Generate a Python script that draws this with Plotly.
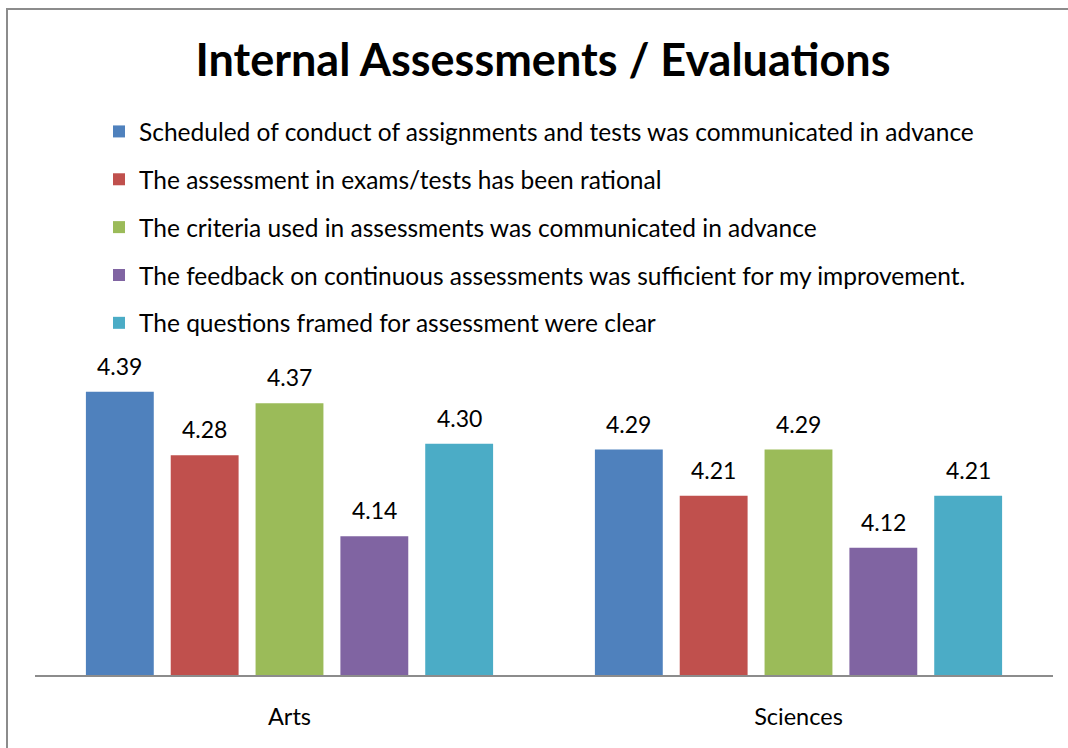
import plotly.graph_objects as go

categories = ["Arts", "Sciences"]
series_names = [
    "Scheduled of conduct of assignments and tests was communicated in advance",
    "The assessment in exams/tests has been rational",
    "The criteria used in assessments was communicated in advance",
    "The feedback on continuous assessments was sufficient for my improvement.",
    "The questions framed for assessment were clear",
]
series_values = [
    [4.39, 4.29],
    [4.28, 4.21],
    [4.37, 4.29],
    [4.14, 4.12],
    [4.30, 4.21],
]
colors = ["#4F81BD", "#C0504D", "#9BBB59", "#8064A2", "#4BACC6"]

W, H = 1068, 748
L, R, T, B = 35, 15, 386, 73
pw, ph = W - L - R, H - T - B
BARGAP = 1 / 6
n = len(series_names)
slot = (1 - BARGAP) / n

fig = go.Figure()
annotations = []
for i, (name, vals) in enumerate(zip(series_names, series_values)):
    fig.add_trace(go.Bar(
        x=categories, y=vals, name=name,
        marker=dict(color=colors[i], line=dict(width=0)),
        legendgroup=f"g{i}", hoverinfo="y+name",
    ))
    for ci, v in enumerate(vals):
        annotations.append(dict(
            x=ci + (i - (n - 1) / 2) * slot, y=v, xref="x", yref="y",
            text=f"{v:.2f}", showarrow=False, yanchor="bottom", yshift=10,
            font=dict(family="Lato", size=23, color="#000000"),
        ))

def px_x(p):
    return (p - L) / pw

def px_y(p):
    return (H - B - p) / ph

fig.update_layout(
    width=W, height=H,
    margin=dict(l=L, r=R, t=T, b=B),
    paper_bgcolor="white", plot_bgcolor="white",
    font=dict(family="Lato", size=22, color="#000000"),
    title=dict(text="<b>Internal Assessments / Evaluations</b>",
               x=543 / W, xanchor="center", y=1 - 60 / H, yanchor="middle",
               font=dict(family="Lato", size=45, color="#000000")),
    barmode="group", bargap=BARGAP, bargroupgap=0.2,
    showlegend=True,
    legend=dict(x=px_x(99), xanchor="left", y=px_y(109), yanchor="top",
                orientation="v", traceorder="grouped", tracegroupgap=13,
                font=dict(family="Lato", size=24.5), bgcolor="rgba(0,0,0,0)"),
    xaxis=dict(showgrid=False, showline=True, linecolor="#8C8C8C", linewidth=2,
               ticks="", ticklabelstandoff=20,
               tickfont=dict(family="Lato", size=23.5)),
    yaxis=dict(range=[3.9, 4.4], visible=False),
    annotations=annotations,
    shapes=[dict(type="rect", xref="paper", yref="paper",
                 x0=px_x(7), x1=px_x(W + 20), y0=px_y(H + 20), y1=px_y(9),
                 line=dict(color="#8C8C8C", width=2), fillcolor="rgba(0,0,0,0)",
                 layer="below")],
)

fig.write_html("out.html", config={"displayModeBar": False},
               post_script="document.body.style.margin='0';")
